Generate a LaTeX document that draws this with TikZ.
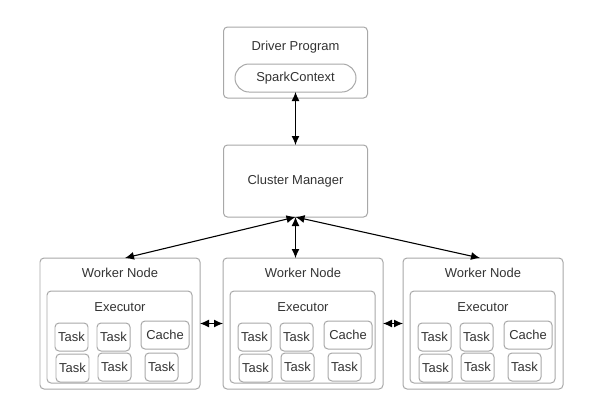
\documentclass[tikz,border=0pt]{standalone}
\usepackage{fontspec}
\setmainfont{Liberation Sans}
\usepackage{tikz}
\usetikzlibrary{arrows.meta}

\definecolor{boxgray}{HTML}{A8A8A8}
\definecolor{txtgray}{HTML}{333333}

\begin{document}
\begin{tikzpicture}[x=1bp, y=-1bp,
  box/.style={draw=boxgray, line width=1pt, rounded corners=4bp, fill=white,
    inner sep=0pt, outer sep=0pt, text=txtgray},
  lbl/.style={text=txtgray, inner sep=0pt},
  taskbox/.style={box, minimum width=33bp, minimum height=28bp},
  cachebox/.style={box, minimum width=48bp, minimum height=28bp},
  conn/.style={{Latex[length=9bp,width=8bp]}-{Latex[length=9bp,width=8bp]}, line width=1.1pt}]
\fontsize{13}{15.5}\selectfont

% Drawing window
\fill[white] (0,0) rectangle (595,405);
\useasboundingbox (0,0) rectangle (595,405);

% Driver and cluster manager
\node[box, minimum width=144bp, minimum height=71bp] (drv) at (295.5,62.5) {};
\node[lbl] (drvt) at (295.5,47) {Driver Program};
\node[box, rounded corners=14bp, minimum width=121bp, minimum height=28bp] (sc) at (295.5,78) {SparkContext};
\node[box, minimum width=144bp, minimum height=72bp] (cm) at (295.5,181) {Cluster Manager};

% Worker nodes
\foreach \i/\xl in {1/40, 2/223, 3/403} {
  \node[box, minimum width=160bp, minimum height=131bp] (w\i) at ({\xl+80},323.5) {};
  \node[lbl] (wt\i) at ({\xl+80},273) {Worker Node};
  \node[box, minimum width=145bp, minimum height=92bp] (ex\i) at ({\xl+79.5},337) {};
  \node[lbl] (ext\i) at ({\xl+80},307) {Executor};
  % tasks and cache
  \node[taskbox] (ta\i) at ({\xl+31.5},337) {Task};
  \node[taskbox] (tb\i) at ({\xl+73.5},337) {Task};
  \node[cachebox] (ca\i) at ({\xl+125},335) {Cache};
  \node[taskbox] (tc\i) at ({\xl+32.5},368) {Task};
  \node[taskbox] (td\i) at ({\xl+74.5},367) {Task};
  \node[taskbox] (te\i) at ({\xl+121.5},367) {Task};
}

% Connectors
\draw[conn] (sc.south) -- (cm.north);
\draw[conn] (cm.south) -- ([xshift=5bp]w1.north);
\draw[conn] (cm.south) -- (cm.south |- w2.north);
\draw[conn] (cm.south) -- ([xshift=-3bp]w3.north);
\draw[conn] (w1.east) -- (w2.west);
\draw[conn] (w2.east) -- (w3.west);

\end{tikzpicture}
\end{document}
